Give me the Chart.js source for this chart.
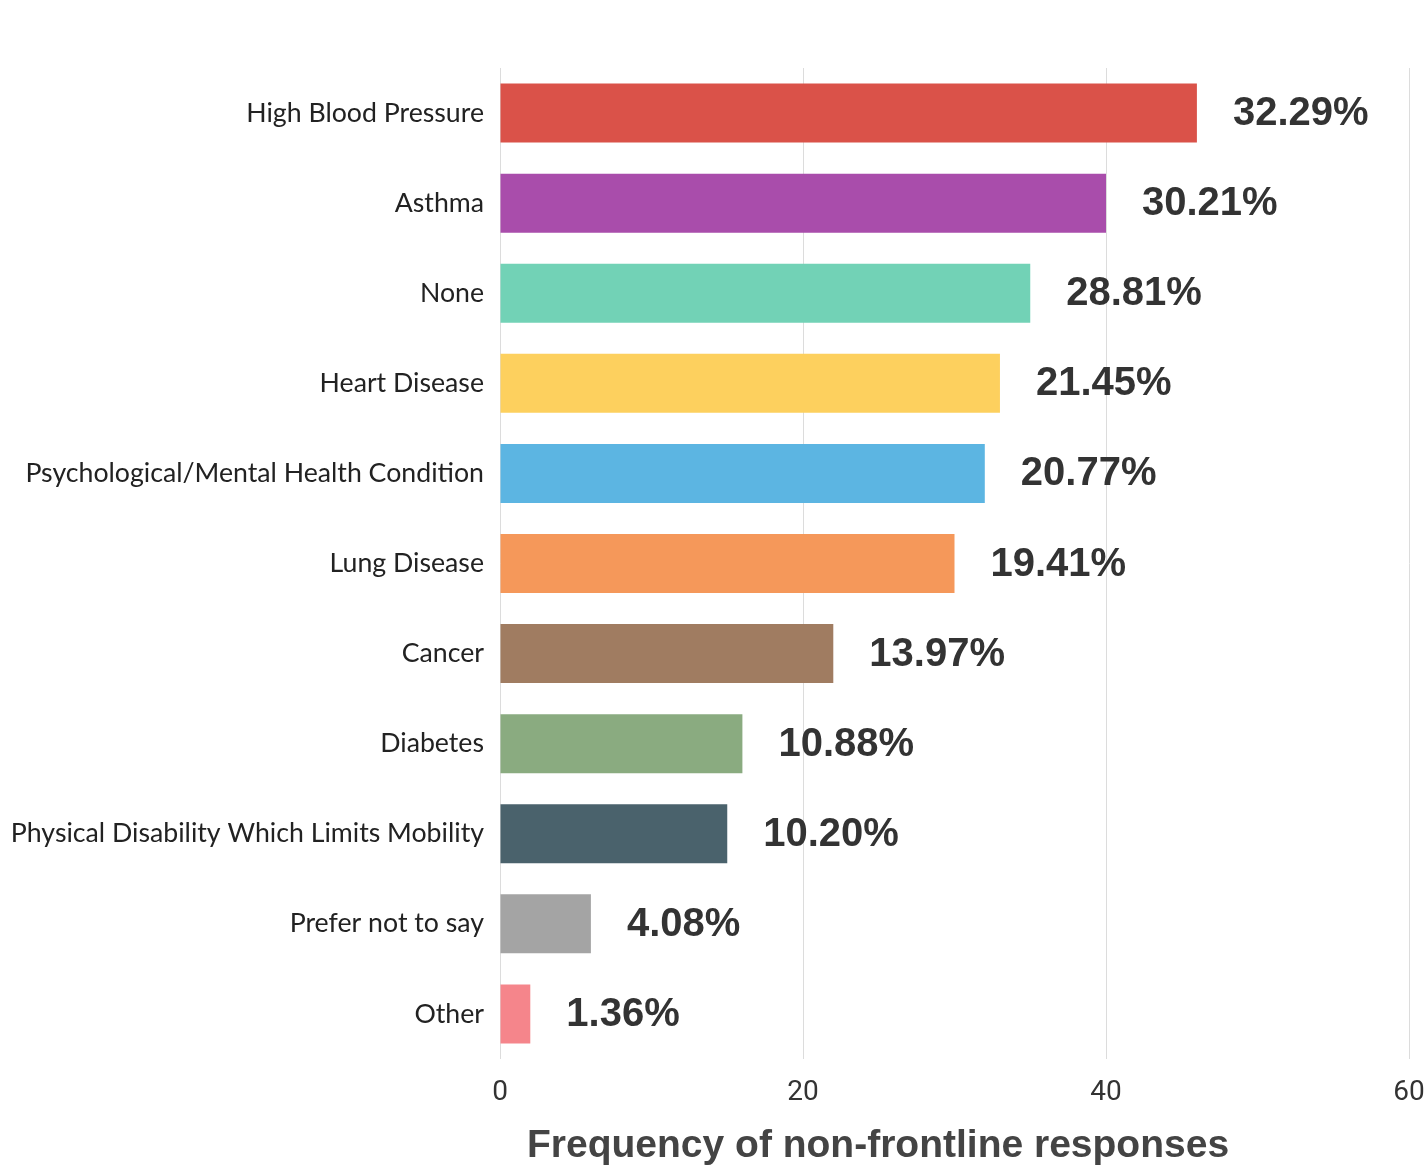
<!DOCTYPE html>
<html>
<head>
<meta charset="utf-8">
<script src="https://cdn.jsdelivr.net/npm/chart.js@4"></script>
<style>
  html, body { margin: 0; padding: 0; background: #fff; overflow: hidden; }
  #box { width: 1427px; height: 1169px; }
</style>
</head>
<body>
<div id="box"><canvas id="grafico"></canvas></div>
<script>
const categorias = ['High Blood Pressure', 'Asthma', 'None', 'Heart Disease',
  'Psychological/Mental Health Condition', 'Lung Disease', 'Cancer', 'Diabetes',
  'Physical Disability Which Limits Mobility', 'Prefer not to say', 'Other'];
const frequencias = [46, 40, 35, 33, 32, 30, 22, 16, 15, 6, 2];
const percentuais = ['32.29%', '30.21%', '28.81%', '21.45%', '20.77%', '19.41%',
  '13.97%', '10.88%', '10.20%', '4.08%', '1.36%'];
const ticksX = [0, 20, 40, 60];
const tituloEixo = 'Frequency of non-frontline responses';

const cores = ['#da5249', '#a94dab', '#72d2b6', '#fdd05e', '#5cb5e2', '#f5985a',
  '#a07c61', '#8aab80', '#4a626c', '#a4a4a4', '#f5858b'];

// rotulos de porcentagem ao lado das barras
const rotulosPlugin = {
  id: 'rotulos',
  afterDatasetsDraw(chart) {
    const ctx = chart.ctx;
    const meta = chart.getDatasetMeta(0);
    ctx.save();
    ctx.font = 'bold 40px "Liberation Sans", Arial, sans-serif';
    ctx.fillStyle = '#333';
    ctx.textAlign = 'left';
    ctx.textBaseline = 'middle';
    meta.data.forEach(function(bar, i) {
      ctx.fillText(percentuais[i], bar.x + 36, bar.y + 1);
    });
    ctx.restore();
  }
};

// titulo do eixo x (um pouco deslocado para a esquerda, como no original)
const tituloPlugin = {
  id: 'tituloEixo',
  afterDraw(chart) {
    const ctx = chart.ctx;
    const area = chart.chartArea;
    ctx.save();
    ctx.font = 'bold 39px "Liberation Sans", Arial, sans-serif';
    ctx.fillStyle = '#444';
    ctx.textAlign = 'left';
    ctx.textBaseline = 'middle';
    ctx.fillText(tituloEixo, area.left + 27, area.bottom + 87);
    ctx.restore();
  }
};

const grafico = new Chart(document.getElementById('grafico').getContext('2d'), {
  type: 'bar',
  data: {
    labels: categorias,
    datasets: [{
      data: frequencias,
      backgroundColor: cores,
      borderWidth: 0,
      barPercentage: 0.655,
      categoryPercentage: 1
    }]
  },
  options: {
    indexAxis: 'y',
    responsive: true,
    maintainAspectRatio: false,
    animation: false,
    layout: { padding: { top: 68, right: 18, bottom: 0, left: 0 } },
    plugins: {
      legend: { display: false },
      tooltip: { enabled: false }
    },
    scales: {
      x: {
        min: 0,
        max: 60,
        afterBuildTicks: function(scale) {
          scale.ticks = ticksX.map(function(v) { return { value: v }; });
        },
        afterFit: function(scale) {
          scale.height = 110;
          scale.paddingLeft = 0;
          scale.paddingRight = 0;
        },
        grid: { color: '#dcdcdc', lineWidth: 1, drawTicks: false },
        border: { display: false },
        ticks: {
          padding: 17,
          color: '#333',
          font: { family: '"Liberation Sans Narrow", "Roboto", sans-serif', size: 28 }
        }
      },
      y: {
        afterFit: function(scale) { scale.width = 500; },
        grid: { display: false, drawTicks: false },
        border: { display: false },
        ticks: {
          padding: 16,
          color: '#222',
          font: { family: 'Lato, "Open Sans", sans-serif', size: 26.7 }
        }
      }
    }
  },
  plugins: [rotulosPlugin, tituloPlugin]
});
</script>
</body>
</html>
